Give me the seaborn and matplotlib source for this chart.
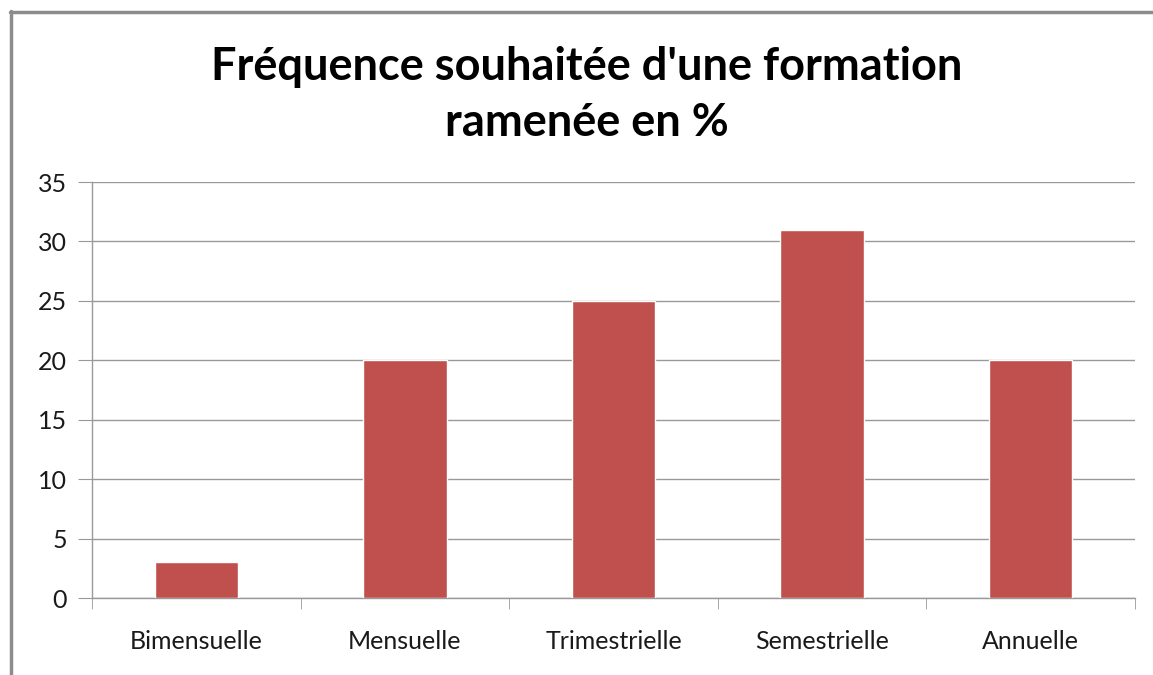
import matplotlib
matplotlib.use("Agg")
import matplotlib.pyplot as plt
import matplotlib.lines as mlines
import seaborn as sns
import pandas as pd

categories = ["Bimensuelle", "Mensuelle", "Trimestrielle", "Semestrielle", "Annuelle"]
values = [3, 20, 25, 31, 20]
title = "Fréquence souhaitée d'une formation\nramenée en %"

df = pd.DataFrame({"freq": categories, "pct": values})

sns.set_style("white")
plt.rcParams["font.family"] = ["Lato", "DejaVu Sans"]

fig = plt.figure(figsize=(11.53, 6.75), dpi=100)
ax = fig.add_axes([92 / 1153, 1 - 598 / 675, (1135 - 92) / 1153, (598 - 182) / 675])

sns.barplot(data=df, x="freq", y="pct", color="#C0504D", width=0.4,
            saturation=1, ax=ax, zorder=3)

ax.set_ylim(0, 35)
ax.set_yticks(range(0, 36, 5))
ax.set_xlim(-0.5, 4.5)
ax.grid(axis="y", color="#999999", linewidth=1, zorder=0)
ax.set_xlabel("")
ax.set_ylabel("")

for s in ["top", "right"]:
    ax.spines[s].set_visible(False)
for s in ["left", "bottom"]:
    ax.spines[s].set_color("#999999")
    ax.spines[s].set_linewidth(1)

# excel style ticks: y outward, x on category borders
ax.tick_params(axis="y", length=10, color="#999999", labelsize=18,
               labelcolor="#1a1a1a", pad=8, direction="out", left=True)
ax.set_xticks([i + 0.5 for i in range(-1, 5)], minor=True)
ax.tick_params(axis="x", which="minor", length=8, color="#999999",
               direction="out", bottom=True)
ax.tick_params(axis="x", which="major", length=0, labelsize=18,
               labelcolor="#1a1a1a", pad=23)

fig.suptitle(title, fontsize=32.5, fontweight="bold", y=0.932,
             linespacing=1.42, x=0.509, color="black")

# chart frame (top and left edges visible)
fig.add_artist(mlines.Line2D([10 / 1153, 1], [1 - 12 / 675, 1 - 12 / 675],
                             color="#8C8C8C", linewidth=2.5))
fig.add_artist(mlines.Line2D([11 / 1153, 11 / 1153], [0, 1 - 11 / 675],
                             color="#8C8C8C", linewidth=2.5))

fig.savefig("out.png", dpi=100, facecolor="white")
